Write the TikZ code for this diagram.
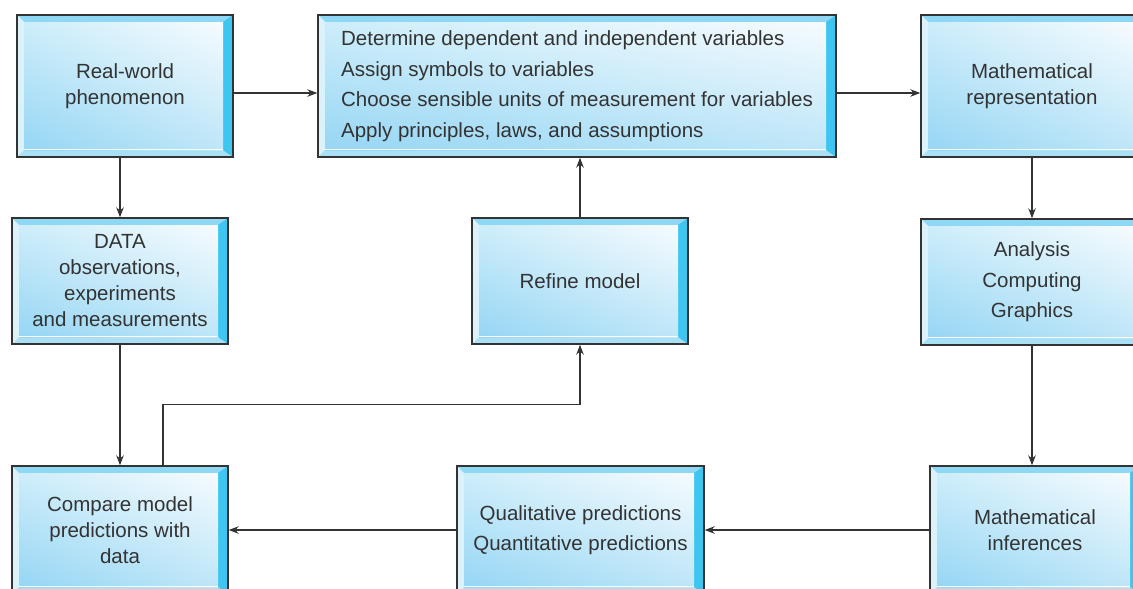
\documentclass[tikz,border=0pt]{standalone}
\usepackage{fontspec}
\setmainfont{Liberation Sans}
\usetikzlibrary{arrows.meta,shadings,calc}

\definecolor{bvtop}{RGB}{143,216,245}
\definecolor{bvleft}{RGB}{220,242,251}
\definecolor{bvright}{RGB}{62,198,241}
\definecolor{bvbottom}{RGB}{169,224,246}
\definecolor{facell}{RGB}{150,214,244}
\definecolor{faceul}{RGB}{205,237,250}
\definecolor{facelr}{RGB}{190,230,248}
\definecolor{faceur}{RGB}{246,251,254}
\definecolor{ink}{RGB}{51,51,51}

\tikzset{
  bevelbox/.style={draw=ink, line width=1.4pt, text=ink, align=center,
    font=\fontsize{20.5pt}{26pt}\selectfont, inner sep=0pt,
    path picture={
      \coordinate (sw) at (path picture bounding box.south west);
      \coordinate (ne) at (path picture bounding box.north east);
      \coordinate (nw) at (path picture bounding box.north west);
      \coordinate (se) at (path picture bounding box.south east);
      \fill[bvbottom] (sw) rectangle (ne);
      \fill[bvtop] (nw) -- (ne) -- ([shift={(-10pt,-7pt)}]ne) -- ([shift={(7pt,-7pt)}]nw) -- cycle;
      \fill[bvleft] (nw) -- ([shift={(7pt,-7pt)}]nw) -- ([shift={(7pt,7pt)}]sw) -- (sw) -- cycle;
      \fill[bvright] (ne) -- (se) -- ([shift={(-10pt,7pt)}]se) -- ([shift={(-10pt,-7pt)}]ne) -- cycle;
      \shade[lower left=facell, upper left=faceul, lower right=facelr, upper right=faceur]
        ([shift={(7pt,7pt)}]sw) rectangle ([shift={(-10pt,-7pt)}]ne);
      \draw[white, line width=1pt] ([shift={(7pt,7.5pt)}]sw) -- ([shift={(-10pt,7.5pt)}]se);
    }},
  wide/.style={font=\fontsize{20.5pt}{30.5pt}\selectfont},
  arr/.style={draw=ink, line width=1.2pt, -{Stealth[length=10pt,width=7.5pt]}}
}

\begin{document}
\begin{tikzpicture}[x=1pt,y=-1pt]
\useasboundingbox (0,0) rectangle (1133,589);
\clip (0,0) rectangle (1133,589);

\node[bevelbox, minimum width=216pt, minimum height=142pt] (real) at (125,86) {Real-world\\phenomenon};
\node[bevelbox, wide, align=left, minimum width=518pt, minimum height=142pt] (vars) at (577,86)
  {Determine dependent and independent variables\\Assign symbols to variables\\Choose sensible units of measurement for variables\\Apply principles, laws, and assumptions};
\node[bevelbox, minimum width=222pt, minimum height=142pt] (mathrep) at (1032,86) {Mathematical\\representation};

\node[bevelbox, minimum width=216pt, minimum height=126pt] (data) at (120,281) {DATA\\observations,\\experiments\\and measurements};
\node[bevelbox, minimum width=216pt, minimum height=126pt] (refine) at (580,281) {Refine model};
\node[bevelbox, wide, minimum width=222pt, minimum height=126pt] (analysis) at (1032,282) {Analysis\\Computing\\Graphics};

\node[bevelbox, minimum width=216pt, minimum height=128pt] (compare) at (120,530) {Compare model\\predictions with\\data};
\node[bevelbox, wide, minimum width=247pt, minimum height=128pt] (predict) at (580.5,530) {Qualitative predictions\\Quantitative predictions};
\node[bevelbox, minimum width=210pt, minimum height=128pt] (infer) at (1035,530) {Mathematical\\inferences};

\draw[arr] ([yshift=-7pt]real.east) -- ([yshift=-7pt]vars.west);
\draw[arr] ([yshift=-7pt]vars.east) -- ([yshift=-7pt]mathrep.west);
\draw[arr] (data.north |- real.south) -- (data.north);
\draw[arr] (mathrep.south) -- (analysis.north);
\draw[arr] (data.south) -- (compare.north);
\draw[arr] (analysis.south) -- (analysis.south |- infer.north);
\draw[arr] (refine.north) -- (refine.north |- vars.south);
\draw[arr] (infer.west) -- (predict.east);
\draw[arr] (predict.west) -- (compare.east);
\draw[arr] ([xshift=43pt]compare.north) -- ++(0,-61) -| (refine.south);
\end{tikzpicture}
\end{document}
